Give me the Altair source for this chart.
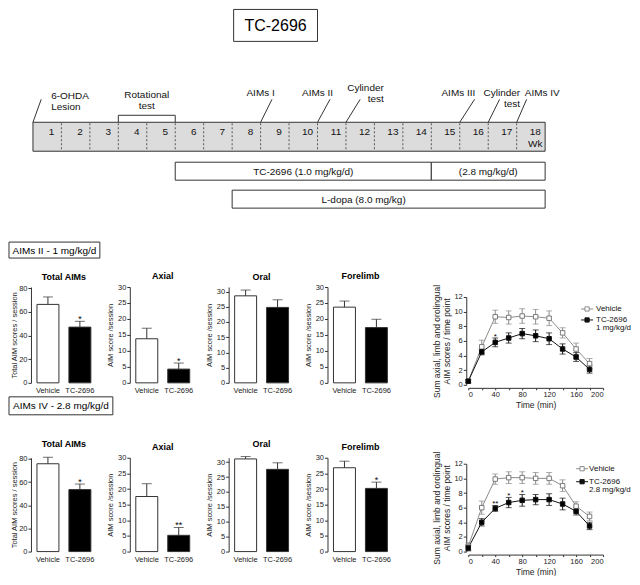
import altair as alt
import pandas as pd

FONT = "Liberation Sans"

# ---------------- data ----------------
TITLE = "TC-2696"
WEEKS = list(range(1, 19))
EVENT_LINES = [["6-OHDA", "Lesion"], ["AIMs I"], ["AIMs II"], ["Cylinder", "test"],
               ["AIMs III"], ["Cylinder", "test"], ["AIMs IV"]]
EVENT_WEEK = [0, 8, 10, 11, 15, 16, 17]
ROT_LINES = ["Rotational", "test"]
ROT_START, ROT_END = 3, 5
TREAT_LABEL = ["TC-2696 (1.0 mg/kg/d)", "(2.8 mg/kg/d)"]
TREAT_START = [5, 14]
TREAT_END = [14, 18]
LDOPA_LABEL = ["L-dopa (8.0 mg/kg)"]
LDOPA_START = [7]
LDOPA_END = [18]
SECTION = ["AIMs II - 1 mg/kg/d", "AIMs IV - 2.8 mg/kg/d"]

GROUPS = ["Vehicle", "TC-2696"]
MEASURES = ["Total AIMs", "Axial", "Oral", "Forelimb"]
YTITLES = ["Total AIM scores / session", "AIM score /session", "AIM score /session", "AIM score /session"]
R1_MEAN = [[66.3, 47.1], [13.8, 4.3], [28.6, 24.8], [23.7, 17.3]]
R1_SEM = [[6.3, 4.9], [3.3, 1.9], [1.9, 2.5], [1.9, 2.6]]
R1_SIG = [["", "*"], ["", "*"], ["", ""], ["", ""]]
R2_MEAN = [[75.8, 53.5], [17.6, 5.2], [31.1, 27.6], [26.8, 20.2]]
R2_SEM = [[5.6, 4.8], [4.1, 2.5], [0.8, 2.2], [2.1, 2.0]]
R2_SIG = [["", "*"], ["", "**"], ["", ""], ["", "*"]]

SERIES = ["Vehicle", "TC-2696"]
TIME = [0, 20, 40, 60, 80, 100, 120, 140, 160, 180]
R1_VEH = [0.5, 5.2, 9.3, 9.2, 9.4, 9.3, 9.1, 7.1, 4.9, 2.9]
R1_VEH_SEM = [0.2, 0.9, 0.9, 0.9, 1.0, 1.0, 1.0, 0.7, 0.8, 0.7]
R1_TC = [0.5, 4.5, 5.8, 6.4, 7.0, 6.7, 6.3, 4.9, 3.8, 2.1]
R1_TC_SEM = [0.2, 0.4, 0.6, 0.7, 0.7, 0.8, 0.8, 0.7, 0.6, 0.5]
R1_LSIG_T = [40]
R1_LSIG = ["*"]
R2_VEH = [0.7, 6.0, 9.9, 10.1, 10.1, 10.0, 10.0, 9.0, 6.2, 4.8]
R2_VEH_SEM = [0.5, 0.9, 0.7, 0.8, 0.8, 0.8, 0.8, 0.8, 0.6, 0.6]
R2_TC = [0.5, 4.0, 5.9, 6.7, 7.0, 7.1, 7.1, 6.5, 5.5, 3.5]
R2_TC_SEM = [0.4, 0.5, 0.4, 0.7, 0.8, 0.7, 0.8, 0.8, 0.5, 0.5]
R2_LSIG_T = [40, 60, 80]
R2_LSIG = ["**", "*", "*"]
DOSE = ["1 mg/kg/d", "2.8 mg/kg/d"]

# ---------------- layout (pixels) ----------------
TOP_W, TOP_H = 590, 278
WEEK_PX, WEEK0_X = 28.5, 2
WDOM = [-WEEK0_X / WEEK_PX, (TOP_W - WEEK0_X) / WEEK_PX]
TL_Y0, TL_Y1 = 113, 142
WK_Y, WKU_Y = 123, 135
TC_Y0, TC_Y1 = 153, 171
LD_Y0, LD_Y1 = 181, 199
LEADER_TOP, BRACKET_Y = 90, 106
EVENT_LX = [0.64, 8.0, 10.0, 12.33, 14.95, 17.12, 17.9]
EVENT_ALIGN = ["left", "center", "center", "right", "center", "right", "center"]
EVENT_LY = [87, 84, 84, 79, 84, 84, 84]
EVENT_TOPX = [0.29, 8.40, 10.44, 11.5, 15.52, 16.4, 17.35]
ROT_LY = 86
LINE_H = 11
LDOPA_LX = 11.62
TITLE_BOX = (203, 287, 0, 32)
SEC1_BOX = (-22, 69, 233, 249)
SEC2_BOX = (-22, 82, 14, 32)
BAR_W = 66
ROW_H = [96, 94]
BOX4_H = 75
COL_GAP = 33
COL3_W = 108
BAR_DOMAIN = [[0, 81], [0, 30], [0, 31.5], [0, 30]]
BAR_STEP = [20, 5, 5, 5]
BAR_TPAD = [0, 3, 3, 3]
LINE_W = 135
LINE_YRANGE = [[98, 10], [94, 6]]
LINE_XOFF = [5, 3]
LEG_POS = [(113, 125, 119, 128, [22, 33, 41]), (108, 120, 114, 121, [11, 24, 32])]

GRAY = "#333333"


def WX(field):
    return alt.X(field, scale=alt.Scale(domain=WDOM, range=[0, TOP_W], nice=False, zero=False), axis=None)


def PY(field):
    return alt.Y(field, scale=alt.Scale(domain=[0, TOP_H], range=[0, TOP_H], nice=False, zero=False), axis=None)


def box_layers(label, box, fs):
    x0, x1, y0, y1 = box
    d = pd.DataFrame({"t": [label]})
    rect = alt.Chart(d).mark_rect(fill="white", stroke=GRAY, strokeWidth=1).encode(
        x=alt.value(x0), x2=alt.value(x1), y=alt.value(y0), y2=alt.value(y1))
    txt = alt.Chart(d).mark_text(fontSize=fs, align="center", baseline="middle", color="black").encode(
        x=alt.value((x0 + x1) / 2), y=alt.value((y0 + y1) / 2 + 0.5), text="t:N")
    return [rect, txt]


def spacer(w, h):
    d = pd.DataFrame({"a": [0]})
    return alt.Chart(d).mark_rule(strokeOpacity=0).encode(
        x=alt.value(0), y=alt.value(0), y2=alt.value(1)).properties(width=w, height=h)


# ---------------- top schematic ----------------
layers = []
layers += box_layers(TITLE, TITLE_BOX, 16)

tl = pd.DataFrame({"w": [0], "w2": [len(WEEKS)]})
layers.append(alt.Chart(tl).mark_rect(fill="#dcdcdc", stroke=GRAY, strokeWidth=1).encode(
    x=WX("w:Q"), x2=alt.X2("w2"), y=alt.value(TL_Y0), y2=alt.value(TL_Y1)))
div = pd.DataFrame({"w": WEEKS[:-1]})
layers.append(alt.Chart(div).mark_rule(strokeDash=[2, 2], color="#555555", strokeWidth=1).encode(
    x=WX("w:Q"), y=alt.value(TL_Y0 + 1), y2=alt.value(TL_Y1 - 1)))
wk = pd.DataFrame({"week": WEEKS})
layers.append(alt.Chart(wk).transform_calculate(pos="datum.week - 0.35").mark_text(
    fontSize=10, baseline="middle", color="#111").encode(x=WX("pos:Q"), y=alt.value(WK_Y), text="week:N"))
wku = pd.DataFrame({"week": [WEEKS[-1]], "t": ["Wk"]})
layers.append(alt.Chart(wku).transform_calculate(pos="datum.week - 0.35").mark_text(
    fontSize=10, baseline="middle", color="#111").encode(x=WX("pos:Q"), y=alt.value(WKU_Y), text="t:N"))

tr = pd.DataFrame({"label": TREAT_LABEL, "s": TREAT_START, "e": TREAT_END})
layers.append(alt.Chart(tr).mark_rect(fill="white", stroke=GRAY, strokeWidth=1).encode(
    x=WX("s:Q"), x2=alt.X2("e"), y=alt.value(TC_Y0), y2=alt.value(TC_Y1)))
layers.append(alt.Chart(tr).transform_calculate(mid="(datum.s + datum.e) / 2").mark_text(
    fontSize=10, baseline="middle", color="#111").encode(
    x=WX("mid:Q"), y=alt.value((TC_Y0 + TC_Y1) / 2 + 0.5), text="label:N"))
ld = pd.DataFrame({"label": LDOPA_LABEL, "s": LDOPA_START, "e": LDOPA_END, "lx": [LDOPA_LX]})
layers.append(alt.Chart(ld).mark_rect(fill="white", stroke=GRAY, strokeWidth=1).encode(
    x=WX("s:Q"), x2=alt.X2("e"), y=alt.value(LD_Y0), y2=alt.value(LD_Y1)))
layers.append(alt.Chart(ld).mark_text(fontSize=10, baseline="middle", color="#111").encode(
    x=WX("lx:Q"), y=alt.value((LD_Y0 + LD_Y1) / 2 + 0.5), text="label:N"))

ev = pd.DataFrame({"w": EVENT_WEEK, "wt": EVENT_TOPX})
layers.append(alt.Chart(ev).mark_rule(color=GRAY, strokeWidth=1).encode(
    x=WX("w:Q"), x2=alt.X2("wt"), y=alt.value(TL_Y0), y2=alt.value(LEADER_TOP)))
rows = []
for lines, lx, ly, al in zip(EVENT_LINES, EVENT_LX, EVENT_LY, EVENT_ALIGN):
    for i, t in enumerate(lines):
        rows.append({"t": t, "lx": lx, "ly": ly + i * LINE_H, "al": al})
for i, t in enumerate(ROT_LINES):
    rows.append({"t": t, "lx": (ROT_START + ROT_END) / 2, "ly": ROT_LY + i * LINE_H, "al": "center"})
evt = pd.DataFrame(rows)
for al in ["left", "center", "right"]:
    sub = evt[evt["al"] == al]
    layers.append(alt.Chart(sub).mark_text(fontSize=10, align=al, baseline="middle", color="#111").encode(
        x=WX("lx:Q"), y=PY("ly:Q"), text="t:N"))
rot = pd.DataFrame({"w": [ROT_START], "w2": [ROT_END]})
layers.append(alt.Chart(rot).mark_rule(color=GRAY, strokeWidth=1).encode(
    x=WX("w:Q"), x2=alt.X2("w2"), y=alt.value(BRACKET_Y)))
rotv = pd.DataFrame({"w": [ROT_START, ROT_END]})
layers.append(alt.Chart(rotv).mark_rule(color=GRAY, strokeWidth=1).encode(
    x=WX("w:Q"), y=alt.value(BRACKET_Y), y2=alt.value(TL_Y0)))
layers += box_layers(SECTION[0], SEC1_BOX, 10)

top = alt.layer(*layers).properties(width=BAR_W, height=TOP_H)


# ---------------- bar panels ----------------
def bar_panel(k, means, sems, sigs, height):
    df = pd.DataFrame({"group": GROUPS, "mean": means, "sem": sems, "sig": sigs})
    base = alt.Chart(df).transform_calculate(top="datum.mean + datum.sem")
    ticks = list(range(0, int(BAR_DOMAIN[k][1]) + 1, BAR_STEP[k]))

    def X():
        return alt.X("group:N", sort=GROUPS, title=None,
                     scale=alt.Scale(paddingInner=0.3125, paddingOuter=0.1875),
                     axis=alt.Axis(labelAngle=0, domain=False, ticks=False, labelFontSize=7.5,
                                   labelPadding=4, labelColor="#222"))

    def Y(field):
        return alt.Y(field, title=YTITLES[k], scale=alt.Scale(domain=BAR_DOMAIN[k], nice=False),
                     axis=alt.Axis(values=ticks, tickSize=3, labelFontSize=7.5, labelPadding=1,
                                   titleFontSize=7.5, titleFontWeight="normal", titlePadding=BAR_TPAD[k],
                                   domainColor=GRAY, tickColor=GRAY, labelColor="#222",
                                   titleColor="#222", grid=False))

    bars = base.mark_bar(stroke=GRAY, strokeWidth=1).encode(
        x=X(), y=Y("mean:Q"),
        fill=alt.Fill("group:N", scale=alt.Scale(domain=GROUPS, range=["white", "black"]), legend=None))
    err = base.mark_rule(color=GRAY, strokeWidth=1).encode(x=X(), y=Y("mean:Q"), y2=alt.Y2("top:Q"))
    cap = base.mark_tick(color=GRAY, size=10, thickness=1, orient="horizontal").encode(x=X(), y=Y("top:Q"))
    star = base.mark_text(fontSize=9, baseline="alphabetic", dy=1, color="black").encode(
        x=X(), y=Y("top:Q"), text="sig:N")
    return alt.layer(bars, err, cap, star).properties(
        width=BAR_W, height=height,
        title=alt.Title(MEASURES[k], fontSize=9, fontWeight="bold", offset=2, anchor="middle"))


# ---------------- time course ----------------
def line_panel(r, veh, veh_sem, tc, tc_sem, sig_t, sig, dose):
    rows = []
    for s, m, e in ((SERIES[0], veh, veh_sem), (SERIES[1], tc, tc_sem)):
        for t, mm, ee in zip(TIME, m, e):
            rows.append({"time": t, "series": s, "mean": mm, "sem": ee})
    df = pd.DataFrame(rows)
    base = alt.Chart(df).transform_calculate(lo="datum.mean - datum.sem", hi="datum.mean + datum.sem")

    def X():
        return alt.X("time:Q", scale=alt.Scale(domain=[0, 200], nice=False),
                     axis=alt.Axis(values=list(range(0, 201, 20)), title="Time (min)", offset=LINE_XOFF[r],
                                   tickSize=2, labelFontSize=7.5, labelPadding=1, titleFontSize=8.5,
                                   titleFontWeight="normal", titlePadding=2, domainColor=GRAY,
                                   tickColor=GRAY, labelColor="#222", titleColor="#222", grid=False))

    def Y(field):
        return alt.Y(field, scale=alt.Scale(domain=[0, 12], range=LINE_YRANGE[r], nice=False),
                     axis=alt.Axis(values=list(range(0, 13, 2)),
                                   title=["Sum axial, limb and orolingual", "AIM scores / time point"],
                                   offset=2, tickSize=3, labelFontSize=7.5, labelPadding=1,
                                   titleFontSize=8.5, titleFontWeight="normal", titlePadding=2,
                                   titleLineHeight=10, domainColor=GRAY, tickColor=GRAY,
                                   labelColor="#222", titleColor="#222", grid=False))

    col = alt.Color("series:N", scale=alt.Scale(domain=SERIES, range=["#8c8c8c", "#111111"]), legend=None)
    lines = base.mark_line(strokeWidth=1).encode(x=X(), y=Y("mean:Q"), color=col, detail="series:N")
    err = base.mark_rule(strokeWidth=1).encode(x=X(), y=Y("lo:Q"), y2=alt.Y2("hi:Q"), color=col)
    caps_hi = base.mark_tick(size=6, thickness=1, orient="horizontal").encode(x=X(), y=Y("hi:Q"), color=col)
    caps_lo = base.mark_tick(size=6, thickness=1, orient="horizontal").encode(x=X(), y=Y("lo:Q"), color=col)
    pts = base.mark_square(size=20, strokeWidth=1, opacity=1).encode(
        x=X(), y=Y("mean:Q"),
        fill=alt.Fill("series:N", scale=alt.Scale(domain=SERIES, range=["white", "#111111"]), legend=None),
        stroke=alt.Stroke("series:N", scale=alt.Scale(domain=SERIES, range=["#7a7a7a", "#111111"]), legend=None))
    sd = pd.DataFrame({"time": sig_t, "sig": sig,
                       "top": [tc[TIME.index(t)] + tc_sem[TIME.index(t)] for t in sig_t]})
    stars = alt.Chart(sd).mark_text(fontSize=8, baseline="alphabetic", dy=1, color="black").encode(
        x=X(), y=Y("top:Q"), text="sig:N")

    lx0, lx1, sx, tx, ys = LEG_POS[r]
    leg = []
    for i, (name, c, f) in enumerate(zip(SERIES, ["#8c8c8c", "#111111"], ["white", "#111111"])):
        d = pd.DataFrame({"label": [name]})
        leg.append(alt.Chart(d).mark_rule(color=c, strokeWidth=1).encode(
            x=alt.value(lx0), x2=alt.value(lx1), y=alt.value(ys[i])))
        leg.append(alt.Chart(d).mark_square(size=18, fill=f, stroke=c, strokeWidth=1, opacity=1).encode(
            x=alt.value(sx), y=alt.value(ys[i])))
        leg.append(alt.Chart(d).mark_text(fontSize=8, align="left", baseline="middle", color="#111").encode(
            x=alt.value(tx), y=alt.value(ys[i]), text="label:N"))
    d = pd.DataFrame({"label": [dose]})
    leg.append(alt.Chart(d).mark_text(fontSize=8, align="left", baseline="middle", color="#111").encode(
        x=alt.value(tx), y=alt.value(ys[2]), text="label:N"))
    return alt.layer(lines, err, caps_hi, caps_lo, pts, stars, *leg).properties(width=LINE_W, height=ROW_H[r])


def row_cells(r, means, sems, sigs, veh, veh_sem, tc, tc_sem, sig_t, sig):
    cells = [bar_panel(k, means[k], sems[k], sigs[k], ROW_H[r]) for k in range(4)]
    cells.append(line_panel(r, veh, veh_sem, tc, tc_sem, sig_t, sig, DOSE[r]))
    return cells


box4 = alt.layer(*box_layers(SECTION[1], SEC2_BOX, 10)).properties(width=BAR_W, height=BOX4_H)

cells = [top, spacer(BAR_W, 1), spacer(BAR_W, 1), spacer(COL3_W, 1), spacer(LINE_W, 1)]
cells += row_cells(0, R1_MEAN, R1_SEM, R1_SIG, R1_VEH, R1_VEH_SEM, R1_TC, R1_TC_SEM, R1_LSIG_T, R1_LSIG)
cells += [box4, spacer(1, 1), spacer(1, 1), spacer(1, 1), spacer(1, 1)]
cells += row_cells(1, R2_MEAN, R2_SEM, R2_SIG, R2_VEH, R2_VEH_SEM, R2_TC, R2_TC_SEM, R2_LSIG_T, R2_LSIG)

chart = alt.concat(*cells, columns=5, spacing={"row": 0, "column": COL_GAP}, bounds="flush").properties(padding=0)
chart = chart.configure(font=FONT).configure_view(stroke=None).configure_axis(
    labelFont=FONT, titleFont=FONT).configure_title(font=FONT).configure_text(font=FONT)

chart.save("out.html", embed_options={"renderer": "svg", "actions": False})
